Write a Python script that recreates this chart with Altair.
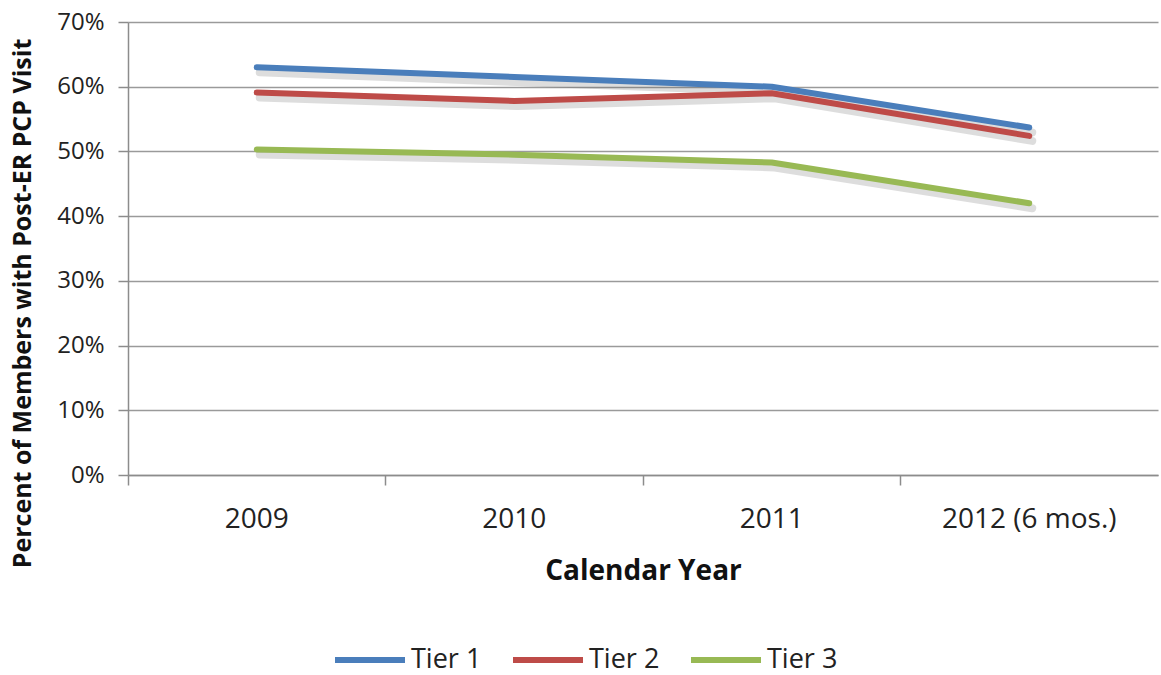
import altair as alt
import pandas as pd

# Share of members with a PCP visit after an ER visit, by tier and year
years = ["2009", "2010", "2011", "2012 (6 mos.)"]
tier1 = [0.630, 0.615, 0.600, 0.537]
tier2 = [0.591, 0.578, 0.590, 0.524]
tier3 = [0.503, 0.495, 0.483, 0.420]
tiers = ["Tier 1", "Tier 2", "Tier 3"]
colors = ["#4A7EBB", "#BE4B48", "#98B954"]

rows = []
for name, vals in zip(tiers, [tier1, tier2, tier3]):
    for yr, v in zip(years, vals):
        rows.append({"Year": yr, "Tier": name, "Value": v})
df = pd.DataFrame(rows)

FONT = "Open Sans"

x_enc = alt.X(
    "Year:O",
    sort=years,
    scale=alt.Scale(type="band", paddingInner=0, paddingOuter=0),
    axis=alt.Axis(
        title="Calendar Year",
        bandPosition=0,
        labelAngle=0,
        labelPadding=20,
        labelFontSize=28,
        labelColor="#222222",
        labelFont=FONT,
        tickSize=10,
        tickColor="#8c8c8c",
        tickWidth=1.5,
        domainColor="#8c8c8c",
        domainWidth=1.5,
        grid=False,
        titleFontSize=28,
        titleFontWeight="bold",
        titleFont=FONT,
        titleColor="#111111",
        titlePadding=24,
    ),
)
y_enc = alt.Y(
    "Value:Q",
    scale=alt.Scale(domain=[0, 0.7], nice=False),
    axis=alt.Axis(
        title="Percent of Members with Post-ER PCP Visit",
        format=".0%",
        values=[0, 0.1, 0.2, 0.3, 0.4, 0.5, 0.6, 0.7],
        labelFontSize=24,
        labelColor="#222222",
        labelFont=FONT,
        labelPadding=14,
        tickSize=10,
        tickColor="#8c8c8c",
        tickWidth=1.5,
        domainColor="#8c8c8c",
        domainWidth=1.5,
        grid=True,
        gridColor="#9a9a9a",
        gridWidth=1.5,
        titleFontSize=25,
        titleFontWeight="bold",
        titleFont=FONT,
        titleColor="#111111",
        titleX=-106,
        titleY=281,
        titleAngle=270,
        titleAlign="center",
        titleBaseline="middle",
    ),
)

shadow = alt.Chart(df).mark_line(
    strokeWidth=8, strokeCap="round", strokeJoin="round",
    color="#555555", opacity=0.2, xOffset=3, yOffset=5,
).encode(x=x_enc, y=y_enc, detail="Tier:N")

lines = alt.Chart(df).mark_line(
    strokeWidth=6, strokeCap="round", strokeJoin="round",
).encode(
    x=x_enc,
    y=y_enc,
    color=alt.Color(
        "Tier:N",
        scale=alt.Scale(domain=tiers, range=colors),
        legend=alt.Legend(
            title=None,
            orient="none",
            direction="horizontal",
            legendX=204,
            legendY=619,
            symbolType="stroke",
            symbolSize=4900,
            symbolStrokeWidth=6,
            clipHeight=38,
            labelFontSize=27,
            labelFont=FONT,
            labelColor="#222222",
            labelOffset=3,
            columnPadding=28,
        ),
    ),
)

chart = (
    alt.layer(shadow, lines)
    .properties(
        width=1030,
        height=453,
        autosize=alt.AutoSizeParams(type="none"),
        padding={"left": 128, "top": 22, "right": 3, "bottom": 200},
        background="white",
    )
    .configure_view(stroke=None)
)

chart.save("out.html", embed_options={"renderer": "svg", "actions": False})
